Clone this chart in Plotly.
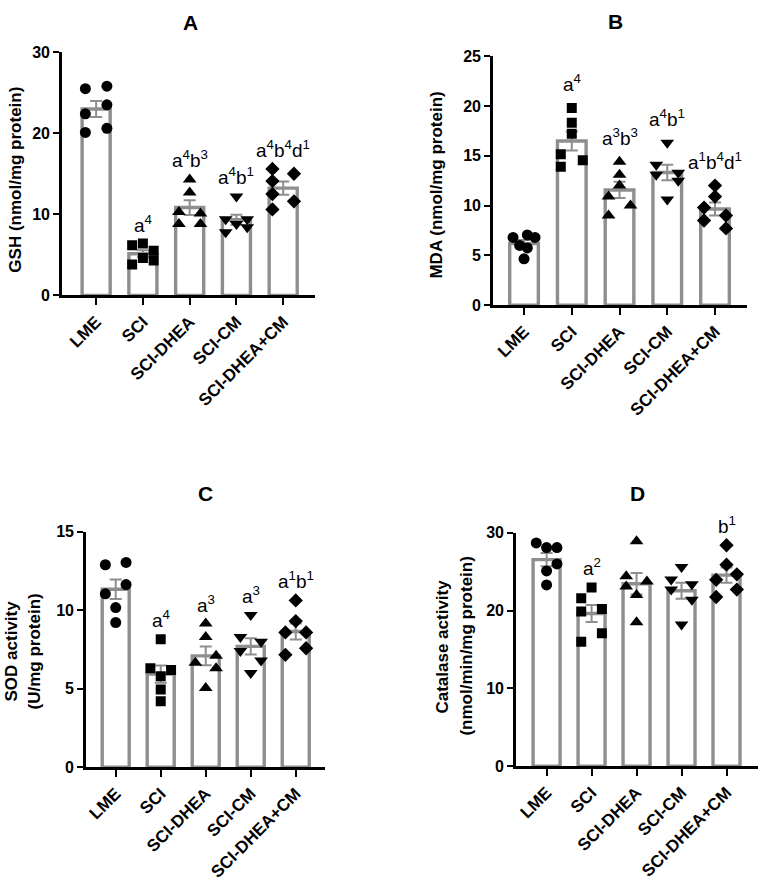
import numpy as np
import plotly.graph_objects as go

categories = ["LME", "SCI", "SCI-DHEA", "SCI-CM", "SCI-DHEA+CM"]
symbols = ["circle", "square", "triangle-up", "triangle-down", "diamond"]

# ---- Panel A: GSH (nmol/mg protein) ----
gsh = [
    [25.5, 25.8, 22.4, 23.5, 20.1, 20.6],
    [6.2, 6.4, 5.5, 3.8, 4.6, 4.3],
    [14.3, 12.7, 10.3, 10.1, 8.8, 8.8],
    [12.2, 9.4, 8.8, 9.4, 7.8, 8.4],
    [15.6, 15.0, 14.1, 12.5, 11.6, 10.6],
]
gsh_slots = [[-1, 1, -1, 1, -1, 1], [-1, 0, 1, -1, 0, 1], [0, 0, -1, 1, -1, 1],
             [0, -1, 0, 1, -1, 1], [-1, 1, -1, -1, 1, -1]]
gsh_labels = ["", "a<sup>4</sup>", "a<sup>4</sup>b<sup>3</sup>", "a<sup>4</sup>b<sup>1</sup>",
              "a<sup>4</sup>b<sup>4</sup>d<sup>1</sup>"]
gsh_ticks = [0, 10, 20, 30]

# ---- Panel B: MDA (nmol/mg protein) ----
mda = [
    [6.8, 7.05, 6.8, 6.0, 5.75, 4.65],
    [19.8, 18.3, 17.2, 15.15, 13.9, 14.55],
    [14.4, 13.1, 12.0, 10.9, 10.0, 9.0],
    [16.3, 14.1, 13.1, 13.3, 12.5, 10.6],
    [12.0, 10.9, 9.8, 9.0, 8.5, 7.7],
]
mda_slots = [[-1, 0.3, 1, -0.4, 0.3, 0], [0, 0, 0, -1, -1, 1], [0, 0, 0, -1, 1, -1],
             [0, -1, -1, 1, 1, 0], [0, 0, -1, 1, -1, 1]]
mda_labels = ["", "a<sup>4</sup>", "a<sup>3</sup>b<sup>3</sup>", "a<sup>4</sup>b<sup>1</sup>",
              "a<sup>1</sup>b<sup>4</sup>d<sup>1</sup>"]
mda_ticks = [0, 5, 10, 15, 20, 25]

# ---- Panel C: SOD activity (U/mg protein) ----
sod = [
    [12.9, 13.05, 11.64, 11.05, 10.17, 9.22],
    [8.15, 6.3, 6.2, 5.8, 4.95, 4.2],
    [9.15, 8.3, 7.1, 6.65, 6.3, 5.05],
    [9.7, 8.3, 8.0, 7.4, 6.8, 6.0],
    [10.63, 9.31, 8.59, 8.59, 7.16, 7.58],
]
sod_slots = [[-1, 1, 1, -1, 0, 0], [0, -1, 1, 0, 0, 0], [0, 0, 1, -1, 1, 0],
             [0, -1, 1, -1, 1, 0], [0, 0, -1, 1, -1, 1]]
sod_labels = ["", "a<sup>4</sup>", "a<sup>3</sup>", "a<sup>3</sup>", "a<sup>1</sup>b<sup>1</sup>"]
sod_ticks = [0, 5, 10, 15]

# ---- Panel D: Catalase activity (nmol/min/mg protein) ----
cat = [
    [28.7, 28.1, 28.1, 26.0, 25.1, 23.3],
    [22.98, 21.6, 20.2, 19.9, 17.1, 16.0],
    [28.9, 24.4, 23.75, 23.1, 22.0, 18.5],
    [25.6, 24.0, 23.4, 22.7, 21.4, 18.2],
    [28.4, 25.9, 24.66, 23.95, 22.7, 21.75],
]
cat_slots = [[-1, 0, 1, 1, 0, 0], [0, -1, 1, -1, 1, -1], [0, -1, 1, -1, 0, 0],
             [0, -1, 1, -1, 1, 0], [0, 0, 1, -1, 1, -1]]
cat_labels = ["", "a<sup>2</sup>", "", "", "b<sup>1</sup>"]
cat_ticks = [0, 10, 20, 30]

W, H = 760, 890
FONT = "Liberation Sans, Arial, sans-serif"
GRAY = "#8e8e8e"
MSIZE = {"circle": 11, "square": 10, "triangle-up": 12, "triangle-down": 12, "diamond": 11}

panels = [
    dict(name="A", data=gsh, slots=gsh_slots, labels=gsh_labels, ticks=gsh_ticks,
         px=(62, 315), py=(293, 45), xr=(-0.73, 4.68), lab_shift=18,
         title_xy=(190, 15), ytitle=["GSH (nmol/mg protein)"], ytitle_x=[16], ytitle_y=175),
    dict(name="B", data=mda, slots=mda_slots, labels=mda_labels, ticks=mda_ticks,
         px=(493, 747), py=(303, 49), xr=(-0.65, 4.67), lab_shift=23,
         title_xy=(615, 14), ytitle=["MDA (nmol/mg protein)"], ytitle_x=[437], ytitle_y=180),
    dict(name="C", data=sod, slots=sod_slots, labels=sod_labels, ticks=sod_ticks,
         px=(86, 325), py=(774, 534), xr=(-0.66, 4.65), lab_shift=18,
         title_xy=(205, 495), ytitle=["SOD activity", "(U/mg protein)"], ytitle_x=[11, 34], ytitle_y=656),
    dict(name="D", data=cat, slots=cat_slots, labels=cat_labels, ticks=cat_ticks,
         px=(516, 758), py=(773, 535), xr=(-0.68, 4.7), lab_shift=18,
         title_xy=(637, 495), ytitle=["Catalase activity", "(nmol/min/mg protein)"], ytitle_x=[443, 467], ytitle_y=651),
]

fig = go.Figure()
layout = dict(width=W, height=H, margin=dict(l=0, r=0, t=0, b=0),
              paper_bgcolor="white", plot_bgcolor="white", showlegend=False,
              font=dict(family=FONT, color="black"))
annotations = []

for i, p in enumerate(panels):
    k = "" if i == 0 else str(i + 1)
    xa, ya = "x" + k, "y" + k
    means = [float(np.mean(v)) for v in p["data"]]
    sems = [float(np.std(v, ddof=1) / np.sqrt(len(v))) for v in p["data"]]
    idx = list(range(len(categories)))
    fig.add_trace(go.Bar(
        x=idx, y=means, width=0.6, xaxis=xa, yaxis=ya,
        marker=dict(color="white", line=dict(color=GRAY, width=3.4)),
        error_y=dict(type="data", array=sems, visible=True, color=GRAY, thickness=2, width=6),
        hoverinfo="skip"))
    for g, vals in enumerate(p["data"]):
        xs = [g + s * 0.23 for s in p["slots"][g]]
        fig.add_trace(go.Scatter(
            x=xs, y=vals, mode="markers", xaxis=xa, yaxis=ya,
            marker=dict(symbol=symbols[g], color="black", size=MSIZE[symbols[g]], line=dict(width=0)),
            hoverinfo="skip"))
        if p["labels"][g]:
            annotations.append(dict(
                x=g, y=max(vals), xref=xa, yref=ya, text=p["labels"][g], showarrow=False,
                yanchor="middle", yshift=p["lab_shift"] + 2,
                font=dict(family=FONT, size=19, color="black")))
    x0, x1 = p["px"]
    yb, yt = p["py"]
    layout["xaxis" + k] = dict(
        domain=[x0 / W, x1 / W], anchor=ya, range=list(p["xr"]),
        tickvals=idx, ticktext=categories, tickangle=-45,
        ticks="outside", ticklen=7, tickwidth=2.2, tickcolor="black",
        showline=True, linecolor="black", linewidth=2.6, showgrid=False, zeroline=False,
        tickfont=dict(family=FONT, size=17, color="black", weight="bold"), fixedrange=True)
    layout["yaxis" + k] = dict(
        domain=[1 - yb / H, 1 - yt / H], anchor=xa, range=[0, p["ticks"][-1]],
        tickvals=p["ticks"], ticks="outside", ticklen=6, tickwidth=2.2, tickcolor="black",
        showline=True, linecolor="black", linewidth=2.6, showgrid=False, zeroline=False,
        tickfont=dict(family=FONT, size=16, color="black", weight="bold"), fixedrange=True)
    tx, ty = p["title_xy"]
    annotations.append(dict(x=tx / W, y=1 - ty / H, xref="paper", yref="paper", text="<b>%s</b>" % p["name"],
                            showarrow=False, xanchor="center", yanchor="middle",
                            font=dict(family=FONT, size=21, color="black")))
    for line, lx in zip(p["ytitle"], p["ytitle_x"]):
        annotations.append(dict(x=lx / W, y=1 - p["ytitle_y"] / H, xref="paper", yref="paper",
                                text="<b>%s</b>" % line, textangle=-90, showarrow=False,
                                xanchor="center", yanchor="middle",
                                font=dict(family=FONT, size=17, color="black")))

layout["annotations"] = annotations
fig.update_layout(**layout)
fig.write_html("out.html")
